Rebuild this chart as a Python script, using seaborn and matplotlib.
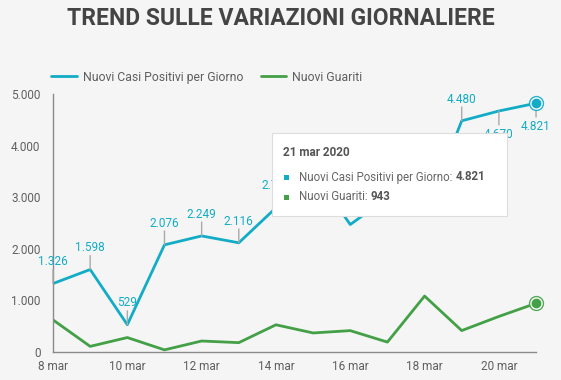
import matplotlib
matplotlib.use("Agg")
import matplotlib.pyplot as plt
import seaborn as sns
import pandas as pd
from matplotlib.patches import Rectangle
from matplotlib.lines import Line2D

# data
days = [8, 9, 10, 11, 12, 13, 14, 15, 16, 17, 18, 19, 20, 21]
nuovi_positivi = [1326, 1598, 529, 2076, 2249, 2116, 2795, 3497, 2470, 2989, 2648, 4480, 4670, 4821]
nuovi_guariti = [622, 109, 280, 41, 213, 181, 527, 369, 414, 192, 1084, 415, 689, 943]
# label above (+1), below (-1) or hidden under the tooltip (0)
label_side = [1, 1, 1, 1, 1, 1, 1, 0, 0, 0, 0, 1, -1, -1]
x_ticks = [8, 10, 12, 14, 16, 18, 20]

blue = "#12acc6"
green = "#43a047"
bg = "#f5f5f5"
txt = "#5f5f5f"

def it_num(v):
    return f"{v:,}".replace(",", ".")

df = pd.DataFrame({"giorno": days, "positivi": nuovi_positivi, "guariti": nuovi_guariti})

sns.set_style("white")
plt.rcParams["font.family"] = ["Roboto", "DejaVu Sans"]

fig = plt.figure(figsize=(5.61, 3.80), dpi=100, facecolor=bg)
ax = fig.add_axes([0.0945, 0.0737, 0.861, 0.679])
ax.set_facecolor(bg)

sns.lineplot(data=df, x="giorno", y="positivi", color=blue, lw=2, ax=ax)
sns.lineplot(data=df, x="giorno", y="guariti", color=green, lw=2, ax=ax)

ax.set_xlim(8, 21)
ax.set_ylim(0, 5000)
ax.set_xticks(x_ticks)
ax.set_xticklabels([f"{d} mar" for d in x_ticks])
ax.set_yticks([0, 1000, 2000, 3000, 4000, 5000])
ax.set_yticklabels([it_num(v) for v in [0, 1000, 2000, 3000, 4000, 5000]])
ax.tick_params(axis="y", length=0, labelsize=8.5, labelcolor=txt, pad=9)
ax.tick_params(axis="x", length=0, labelsize=8.5, labelcolor=txt, pad=6)
ax.set_xlabel("")
ax.set_ylabel("")
for s in ["top", "right"]:
    ax.spines[s].set_visible(False)
for s in ["left", "bottom"]:
    ax.spines[s].set_color("#8a8a8a")
    ax.spines[s].set_linewidth(1)

# data labels with small leader lines
for d, v, side in zip(days, nuovi_positivi, label_side):
    if side == 0:
        continue
    ax.annotate("", xy=(d, v), xytext=(0, 10 * side), textcoords="offset points",
                arrowprops=dict(arrowstyle="-", color="#aaaaaa", lw=1, shrinkA=0, shrinkB=0),
                annotation_clip=False)
    off = 11 if side > 0 else -12
    ax.annotate(it_num(v), xy=(d, v), xytext=(0, off), textcoords="offset points",
                ha="center", va="bottom" if side > 0 else "top", fontsize=8.5, color=blue,
                annotation_clip=False)

# highlighted last points
for v, c in [(nuovi_positivi[-1], blue), (nuovi_guariti[-1], green)]:
    ax.plot(days[-1], v, "o", ms=10, mfc="white", mec=c, mew=1, alpha=0.9, clip_on=False, zorder=5)
    ax.plot(days[-1], v, "o", ms=6, color=c, clip_on=False, zorder=6)

# title
fig.text(0.5, 0.952, "TREND SULLE VARIAZIONI GIORNALIERE", ha="center", va="center",
         fontsize=16.5, fontweight="bold", color="#444444")

# legend
handles = [Line2D([], [], color=blue, lw=2), Line2D([], [], color=green, lw=2)]
fig.legend(handles, ["Nuovi Casi Positivi per Giorno", "Nuovi Guariti"], loc="center left",
           bbox_to_anchor=(0.072, 0.797), ncol=2, frameon=False, fontsize=8.8,
           handlelength=2.1, handletextpad=0.5, columnspacing=1.4, labelcolor=txt)

# tooltip
x0, x1, y0, y1 = 272 / 561, 507 / 561, 1 - 216 / 380, 1 - 133 / 380
fig.add_artist(Rectangle((x0 + 0.0015, y0 - 0.003), x1 - x0, y1 - y0, transform=fig.transFigure,
                         facecolor="#dcdcdc", edgecolor="none", zorder=10))
fig.add_artist(Rectangle((x0, y0), x1 - x0, y1 - y0, transform=fig.transFigure,
                         facecolor="white", edgecolor="#dddddd", lw=0.8, zorder=11))
fig.text(283 / 561, 1 - 152 / 380, "21 mar 2020", fontsize=8.5, fontweight="bold",
         color="#555555", va="center", zorder=12)
rows = [(177, blue, "Nuovi Casi Positivi per Giorno: ", nuovi_positivi[-1]),
        (197, green, "Nuovi Guariti: ", nuovi_guariti[-1])]
for y, c, lab, v in rows:
    fig.add_artist(Rectangle((284 / 561, 1 - (y + 3) / 380), 5 / 561, 5 / 380,
                             transform=fig.transFigure, facecolor=c, edgecolor="none", zorder=12))
    t = fig.text(299 / 561, 1 - y / 380, lab, fontsize=8.3, color="#666666", va="center", zorder=12)
    fig.canvas.draw()
    bb = t.get_window_extent()
    fig.text(bb.x1 / 561, 1 - y / 380, it_num(v), fontsize=8.3, fontweight="bold",
             color="#555555", va="center", zorder=12)

fig.savefig("out.png", dpi=100, facecolor=bg)
